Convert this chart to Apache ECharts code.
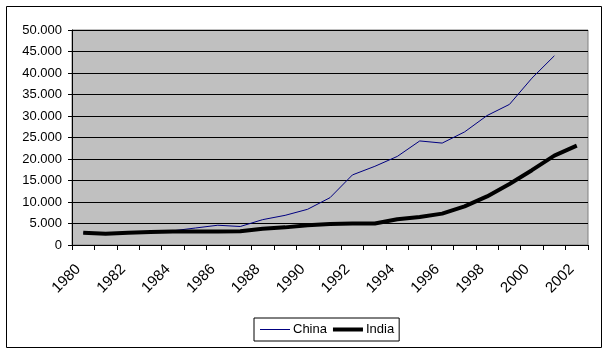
<!DOCTYPE html>
<html>
<head>
<meta charset="utf-8">
<script src="https://cdn.jsdelivr.net/npm/echarts@6/dist/echarts.min.js"></script>
<style>
html,body{margin:0;padding:0;background:#fff;}
#c{width:608px;height:355px;}
</style>
</head>
<body>
<div id="c"></div>
<script>
const years = ['1980','1981','1982','1983','1984','1985','1986','1987','1988','1989','1990','1991','1992','1993','1994','1995','1996','1997','1998','1999','2000','2001','2002'];
const china = [2800, 2600, 2850, 3050, 3300, 3950, 4600, 4300, 5900, 6900, 8300, 11000, 16300, 18300, 20600, 24200, 23700, 26300, 30100, 32700, 38800, 44000, null];
const india = [2850, 2600, 2850, 3050, 3150, 3150, 3150, 3200, 3800, 4100, 4600, 4900, 5000, 5000, 6000, 6500, 7300, 9000, 11300, 14200, 17400, 20800, 23100];
const seriesNames = ['China', 'India'];

function fmt(v){
  const s = String(Math.round(v));
  return s.replace(/\B(?=(\d{3})+(?!\d))/g, '.');
}
const thinIcon = 'path://M0,4.5h30v1h-30z M0,0h0.01v0.01h-0.01z M29.99,9.99h0.01v0.01h-0.01z';
const thickIcon = 'path://M0,3h30v4h-30z M0,0h0.01v0.01h-0.01z M29.99,9.99h0.01v0.01h-0.01z';

const FONT = 'Liberation Sans, Arial, sans-serif';
const chart = echarts.init(document.getElementById('c'), null, {renderer:'canvas'});
chart.setOption({
  animation: false,
  backgroundColor: '#ffffff',
  textStyle: {fontFamily: FONT},
  graphic: [{
    type: 'rect',
    shape: {x: 6.5, y: 6.5, width: 595, height: 341},
    style: {fill: 'none', stroke: '#000', lineWidth: 1},
    silent: true
  }],
  grid: {
    left: 72, right: 20, top: 30, bottom: 110,
    show: true, backgroundColor: '#c0c0c0', borderColor: '#808080', borderWidth: 1
  },
  legend: {
    data: [
      {name: seriesNames[0], icon: thinIcon, itemStyle: {color: '#000080', borderWidth: 0}, lineStyle: {width: 0}},
      {name: seriesNames[1], icon: thickIcon, itemStyle: {color: '#000', borderWidth: 0}, lineStyle: {width: 0}}
    ],
    left: 254, top: 318,
    orient: 'horizontal',
    borderColor: '#000', borderWidth: 1,
    padding: [5, 5, 5, 6],
    itemGap: 6,
    itemWidth: 30, itemHeight: 10,
    textStyle: {fontSize: 13, color: '#000', fontFamily: FONT, padding: [0,0,0,-2]}
  },
  xAxis: {
    type: 'category',
    data: years,
    boundaryGap: true,
    axisLine: {lineStyle: {color: '#000', width: 1}},
    axisTick: {show: true, interval: 0, length: 5, lineStyle: {color: '#000'}},
    axisLabel: {interval: 1, rotate: 45, fontSize: 15, color: '#000', margin: 17,
      padding: [0, 7, 0, 0], fontFamily: FONT},
    splitLine: {show: false}
  },
  yAxis: {
    type: 'value',
    min: 0, max: 50000, interval: 5000,
    axisLine: {show: true, lineStyle: {color: '#000', width: 1}},
    axisTick: {show: true, length: 4, lineStyle: {color: '#000'}},
    axisLabel: {formatter: fmt, fontSize: 13, color: '#000', margin: 10, fontFamily: FONT},
    splitLine: {show: true, lineStyle: {color: '#000', width: 1}}
  },
  series: [
    {name: seriesNames[0], type: 'line', data: china, symbol: 'none', z: 2,
     lineStyle: {color: '#000080', width: 1}, itemStyle: {color: '#000080'}},
    {name: seriesNames[1], type: 'line', data: india, symbol: 'none', z: 3,
     lineStyle: {color: '#000', width: 4}, itemStyle: {color: '#000'}}
  ]
});
</script>
</body>
</html>
